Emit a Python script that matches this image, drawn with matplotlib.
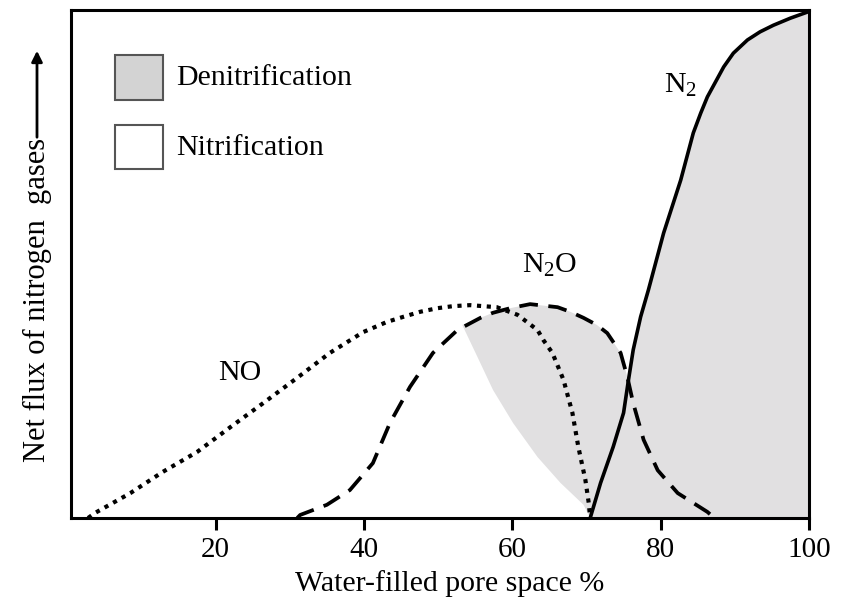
import matplotlib
matplotlib.use('Agg')
import matplotlib.pyplot as plt
import numpy as np
from matplotlib.patches import Rectangle, FancyArrowPatch

plt.rcParams['font.family'] = ['Liberation Serif', 'DejaVu Serif']
plt.rcParams['mathtext.fontset'] = 'custom'
plt.rcParams['mathtext.rm'] = 'Liberation Serif'
plt.rcParams['mathtext.it'] = 'Liberation Serif:italic'

# curves (x = water-filled pore space %, y = relative flux)
no_x = [2.8, 3.75, 8.5, 12.9, 17.5, 22.0, 26.4, 31.0, 35.4, 39.9, 43.1, 45.3, 47.6,
        49.9, 52.0, 54.3, 57.9, 60.7, 63.4, 64.2, 65.4, 66.9, 68.1, 68.9, 69.85,
        70.3, 70.5]
no_y = [0.0, 1.0, 4.9, 9.1, 13.0, 17.9, 22.6, 27.6, 32.5, 36.6, 38.6, 39.6, 40.6,
        41.3, 41.7, 41.9, 41.5, 40.0, 37.0, 35.0, 32.5, 27.2, 20.7, 14.0, 7.5,
        3.0, 0.0]

n2o_x = [31.0, 31.4, 35.0, 38.1, 41.2, 43.5, 46.2, 49.3, 52.6, 55.7, 57.4, 59.7,
         62.4, 66.1, 67.8, 69.6, 71.4, 72.8, 74.6, 75.5, 76.3, 77.7, 79.6, 82.3,
         86.3, 87.25]
n2o_y = [0.0, 0.6, 2.6, 5.5, 10.8, 18.7, 25.8, 32.5, 37.0, 39.4, 40.4, 41.3,
         42.1, 41.5, 40.6, 39.4, 38.0, 36.4, 32.5, 27.8, 22.6, 15.4, 9.4, 4.9,
         1.2, 0.0]

n2_x = [70.5, 71.9, 73.6, 75.0, 75.6, 76.3, 77.3, 78.35, 80.4, 82.7, 84.4, 85.4,
        86.3, 88.5, 89.8, 91.7, 93.4, 95.2, 97.5, 99.8, 100.0]
n2_y = [0.0, 6.9, 14.0, 20.7, 26.6, 33.1, 39.6, 44.9, 56.1, 66.5, 75.8, 79.7,
        82.9, 88.8, 91.5, 94.1, 95.7, 97.0, 98.4, 99.6, 100.0]

# left edge of the shaded denitrification zone
edge_x = [53.25, 55.3, 57.4, 60.1, 63.4, 66.5, 69.6, 70.5]
edge_y = [38.0, 31.7, 25.2, 18.7, 12.0, 6.9, 2.6, 0.0]

xticks = [20, 40, 60, 80, 100]
cross_x = 75.5  # where N2 meets N2O

fig = plt.figure(figsize=(8.43, 6.03), dpi=100)
ax = fig.add_axes([71 / 843, 1 - 518 / 603, 738 / 843, 508 / 603])

# shaded polygon: edge -> bottom -> N2 (down) -> N2O (back)
n2_x_a, n2_y_a = np.array(n2_x), np.array(n2_y)
n2o_x_a, n2o_y_a = np.array(n2o_x), np.array(n2o_y)
m1 = n2_x_a > cross_x
m2 = (n2o_x_a <= cross_x) & (n2o_x_a > edge_x[0])
poly_x = list(edge_x) + [100.0] + list(n2_x_a[m1][::-1]) + list(n2o_x_a[m2][::-1])
poly_y = list(edge_y) + [0.0] + list(n2_y_a[m1][::-1]) + list(n2o_y_a[m2][::-1])
ax.fill(poly_x, poly_y, color='#e1e0e1', lw=0, zorder=1)

ax.plot(no_x, no_y, color='black', lw=3.0, linestyle=(0, (1.0, 1.35)), zorder=3)
ax.plot(n2o_x, n2o_y, color='black', lw=2.7, linestyle=(0, (5.0, 2.8)), zorder=3)
ax.plot(n2_x, n2_y, color='black', lw=2.6, solid_joinstyle='round', zorder=4)

ax.text(23.3, 28.5, 'NO', fontsize=21.5, ha='center', va='center')
ax.text(65.1, 49.8, 'N$_2$O', fontsize=21.5, ha='center', va='center')
ax.text(82.7, 85.2, 'N$_2$', fontsize=21.5, ha='center', va='center')

# legend boxes
ax.add_patch(Rectangle((0.0596, 0.823), 0.065, 0.0886, transform=ax.transAxes,
                       facecolor='#d3d3d3', edgecolor='#555555', lw=1.5, zorder=5))
ax.add_patch(Rectangle((0.0596, 0.687), 0.065, 0.0866, transform=ax.transAxes,
                       facecolor='white', edgecolor='#555555', lw=1.5, zorder=5))
ax.text(0.1423, 0.866, 'Denitrification', transform=ax.transAxes, fontsize=21.5,
        va='center', ha='left')
ax.text(0.1423, 0.728, 'Nitrification', transform=ax.transAxes, fontsize=21.5,
        va='center', ha='left')

ax.set_xlim(0.5, 100)
ax.set_ylim(0, 100)
ax.set_xticks(xticks)
ax.set_xticklabels([str(t) for t in xticks])
ax.set_yticks([])
ax.tick_params(axis='x', direction='out', length=8.6, width=2.2, pad=5, labelsize=21)
for s in ax.spines.values():
    s.set_linewidth(2.2)

ax.set_xlabel('Water-filled pore space %', fontsize=21.5)
ax.xaxis.set_label_coords(0.5136, -0.128)
ax.xaxis.label.set_va('center')

fig.text(37 / 843, 1 - 300 / 603, 'Net flux of nitrogen  gases', rotation=90,
         fontsize=22, ha='center', va='center')
fig.add_artist(FancyArrowPatch(
    (37 / 843, 1 - 140 / 603), (37 / 843, 1 - 48 / 603), transform=fig.transFigure,
    arrowstyle='-|>', mutation_scale=16, lw=2, color='black'))

fig.savefig('out.png', dpi=100)
